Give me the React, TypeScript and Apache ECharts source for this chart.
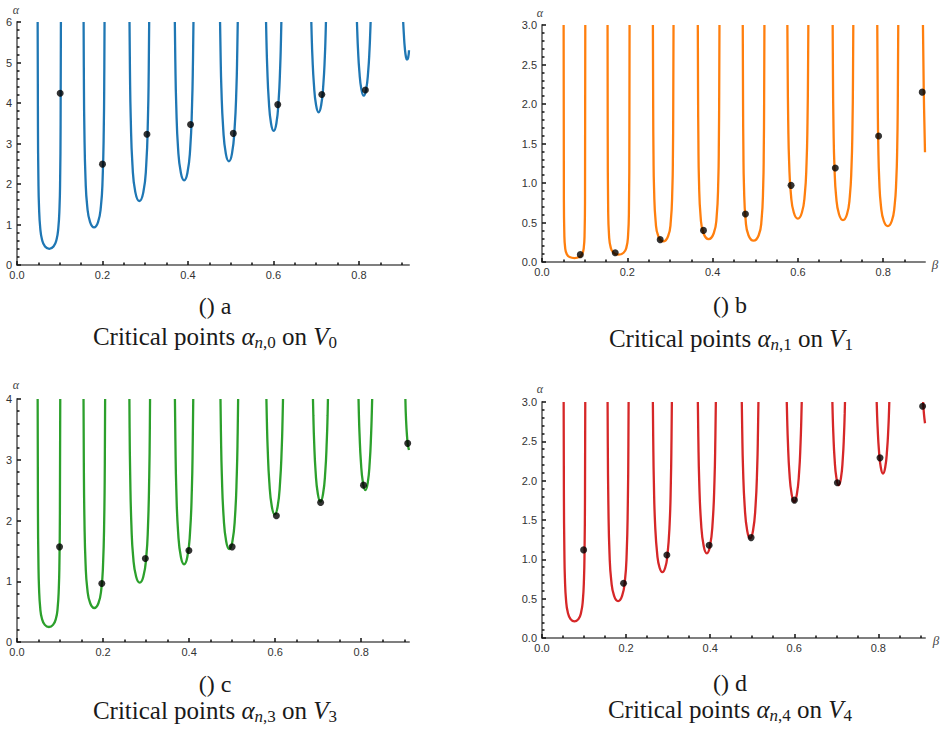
import React, { useEffect, useRef } from "react";
import * as echarts from "echarts";

type Pt = [number, number];

// Branches of alpha(beta) on V0 and the critical points alpha_{n,0}
const v0Branches: Pt[][] = [
  [[0.0483, 6], [0.049, 3.44], [0.0501, 2.1], [0.0515, 1.44], [0.0543, 0.92], [0.0586, 0.625], [0.0656, 0.456], [0.0755, 0.4], [0.0854, 0.456], [0.0924, 0.625], [0.0967, 0.92], [0.0995, 1.44], [0.1009, 2.1], [0.102, 3.44], [0.1027, 6]],
  [[0.1558, 6], [0.1563, 4.89], [0.1576, 3.35], [0.1603, 2.13], [0.1643, 1.45], [0.171, 1.06], [0.1803, 0.93], [0.1896, 1.06], [0.1963, 1.45], [0.2003, 2.13], [0.203, 3.35], [0.2043, 4.89], [0.2048, 6]],
  [[0.2632, 6], [0.2642, 4.82], [0.2661, 3.62], [0.2701, 2.47], [0.2768, 1.8], [0.2862, 1.58], [0.2956, 1.8], [0.3023, 2.47], [0.3063, 3.62], [0.3082, 4.82], [0.3092, 6]],
  [[0.3692, 6], [0.3703, 5.07], [0.3725, 3.95], [0.3768, 2.88], [0.3834, 2.27], [0.391, 2.09], [0.3986, 2.27], [0.4052, 2.88], [0.4095, 3.95], [0.4117, 5.07], [0.4128, 6]],
  [[0.475, 6], [0.4761, 5.3], [0.4781, 4.37], [0.4823, 3.38], [0.4885, 2.75], [0.4957, 2.56], [0.5029, 2.75], [0.5091, 3.38], [0.5133, 4.37], [0.5153, 5.3], [0.5164, 6]],
  [[0.5826, 6], [0.5835, 5.56], [0.5853, 4.9], [0.5889, 4.08], [0.5942, 3.5], [0.6005, 3.31], [0.6068, 3.5], [0.6121, 4.08], [0.6157, 4.9], [0.6175, 5.56], [0.6184, 6]],
  [[0.6885, 6], [0.6893, 5.68], [0.691, 5.16], [0.6945, 4.47], [0.6996, 3.95], [0.7056, 3.77], [0.7116, 3.95], [0.7167, 4.47], [0.7202, 5.16], [0.7219, 5.68], [0.7227, 6]],
  [[0.7952, 6], [0.796, 5.76], [0.7976, 5.35], [0.8008, 4.79], [0.8056, 4.34], [0.8112, 4.18], [0.8168, 4.34], [0.8216, 4.79], [0.8248, 5.35], [0.8264, 5.76], [0.8272, 6]],
  [[0.9034, 6], [0.9049, 5.71], [0.9072, 5.36], [0.91, 5.13], [0.9122, 5.07], [0.915, 5.12], [0.917, 5.3]],
];
const v0Critical: Pt[] = [
  [0.101, 4.24], [0.2, 2.49], [0.304, 3.23], [0.406, 3.47], [0.506, 3.25], [0.61, 3.96], [0.713, 4.21], [0.815, 4.32],
];

// Branches on V1 and the critical points alpha_{n,1}
const v1Branches: Pt[][] = [
  [[0.0507, 3], [0.0513, 0.846], [0.0523, 0.37], [0.0543, 0.18], [0.0582, 0.098], [0.0646, 0.0627], [0.0761, 0.05], [0.0876, 0.0627], [0.094, 0.098], [0.0979, 0.18], [0.0999, 0.37], [0.1009, 0.846], [0.1015, 3]],
  [[0.1537, 3], [0.1541, 1.59], [0.1551, 0.688], [0.1572, 0.335], [0.1612, 0.182], [0.1677, 0.117], [0.1795, 0.093], [0.1913, 0.117], [0.1978, 0.182], [0.2018, 0.335], [0.2039, 0.688], [0.2049, 1.59], [0.2053, 3]],
  [[0.26, 3], [0.2607, 1.92], [0.2614, 1.37], [0.2627, 0.937], [0.2665, 0.51], [0.2728, 0.326], [0.2842, 0.26], [0.2956, 0.326], [0.3019, 0.51], [0.3057, 0.937], [0.307, 1.37], [0.3077, 1.92], [0.3084, 3]],
  [[0.3653, 3], [0.3659, 2.15], [0.3667, 1.53], [0.368, 1.045], [0.372, 0.569], [0.3787, 0.364], [0.3907, 0.29], [0.4027, 0.364], [0.4094, 0.569], [0.4134, 1.045], [0.4147, 1.53], [0.4155, 2.15], [0.4161, 3]],
  [[0.4707, 3], [0.4714, 2.0], [0.4722, 1.42], [0.4735, 0.973], [0.4775, 0.529], [0.4841, 0.339], [0.4961, 0.27], [0.5081, 0.339], [0.5147, 0.529], [0.5187, 0.973], [0.52, 1.42], [0.5208, 2.0], [0.5215, 3]],
  [[0.5753, 3], [0.576, 2.44], [0.5773, 1.77], [0.5795, 1.257], [0.5836, 0.859], [0.5904, 0.627], [0.5999, 0.55], [0.6094, 0.627], [0.6162, 0.859], [0.6203, 1.257], [0.6225, 1.77], [0.6238, 2.44], [0.6245, 3]],
  [[0.6815, 3], [0.6822, 2.35], [0.6835, 1.7], [0.6857, 1.21], [0.6897, 0.828], [0.6964, 0.604], [0.7057, 0.53], [0.7151, 0.604], [0.7217, 0.828], [0.7257, 1.21], [0.7279, 1.7], [0.7292, 2.35], [0.7299, 3]],
  [[0.7861, 3], [0.7872, 2.02], [0.7885, 1.46], [0.7907, 1.04], [0.7947, 0.711], [0.8014, 0.519], [0.8107, 0.455], [0.8201, 0.519], [0.8267, 0.711], [0.8307, 1.04], [0.8329, 1.46], [0.8342, 2.02], [0.8353, 3]],
  [[0.8932, 3], [0.895, 2.2], [0.8968, 1.7], [0.898, 1.39]],
];
const v1Critical: Pt[] = [
  [0.0898, 0.093], [0.1717, 0.118], [0.2771, 0.283], [0.3786, 0.4], [0.477, 0.608], [0.5839, 0.97], [0.6877, 1.19], [0.7892, 1.595], [0.8915, 2.15],
];

// Branches on V3 and the critical points alpha_{n,3}
const v3Branches: Pt[][] = [
  [[0.048, 4], [0.0487, 2.12], [0.0498, 1.3], [0.0512, 0.89], [0.0539, 0.565], [0.0579, 0.386], [0.0647, 0.282], [0.0742, 0.247], [0.0837, 0.282], [0.0905, 0.386], [0.0945, 0.565], [0.0972, 0.89], [0.0986, 1.3], [0.0997, 2.12], [0.1005, 4]],
  [[0.1546, 4], [0.1553, 2.95], [0.1567, 2.02], [0.1594, 1.28], [0.1634, 0.875], [0.1702, 0.638], [0.1797, 0.56], [0.1892, 0.638], [0.196, 0.875], [0.2, 1.28], [0.2027, 2.02], [0.2041, 2.95], [0.2048, 4]],
  [[0.2612, 4], [0.2617, 3.52], [0.2631, 2.72], [0.2659, 1.92], [0.27, 1.4], [0.2769, 1.075], [0.2852, 0.978], [0.2935, 1.075], [0.3004, 1.4], [0.3045, 1.92], [0.3073, 2.72], [0.3087, 3.52], [0.3092, 4]],
  [[0.367, 4], [0.3681, 3.32], [0.3702, 2.52], [0.3745, 1.8], [0.3809, 1.4], [0.3883, 1.28], [0.3958, 1.4], [0.4021, 1.8], [0.4064, 2.52], [0.4085, 3.32], [0.4096, 4]],
  [[0.4729, 4], [0.4739, 3.46], [0.476, 2.76], [0.4801, 2.07], [0.4862, 1.655], [0.4934, 1.53], [0.5006, 1.655], [0.5067, 2.07], [0.5108, 2.76], [0.5129, 3.46], [0.5139, 4]],
  [[0.5796, 4], [0.5806, 3.67], [0.5825, 3.2], [0.5864, 2.63], [0.5922, 2.23], [0.5989, 2.1], [0.6057, 2.23], [0.6114, 2.63], [0.6153, 3.2], [0.6172, 3.67], [0.6182, 4]],
  [[0.6878, 4], [0.6887, 3.73], [0.6904, 3.325], [0.6939, 2.81], [0.6991, 2.44], [0.7052, 2.31], [0.7113, 2.44], [0.7165, 2.81], [0.72, 3.325], [0.7218, 3.73], [0.7226, 4]],
  [[0.7937, 4], [0.7944, 3.78], [0.796, 3.43], [0.7992, 2.97], [0.804, 2.62], [0.8095, 2.5], [0.8151, 2.62], [0.8198, 2.97], [0.823, 3.43], [0.8246, 3.78], [0.8254, 4]],
  [[0.9026, 4], [0.9042, 3.65], [0.9065, 3.38], [0.9085, 3.24], [0.911, 3.16]],
];
const v3Critical: Pt[] = [
  [0.0989, 1.566], [0.1971, 0.962], [0.2983, 1.374], [0.3995, 1.505], [0.5, 1.566], [0.6028, 2.077], [0.7056, 2.297], [0.8053, 2.582], [0.908, 3.27],
];

// Branches on V4 and the critical points alpha_{n,4}
const v4Branches: Pt[][] = [
  [[0.0515, 3], [0.0521, 1.81], [0.0532, 1.11], [0.0545, 0.76], [0.0572, 0.482], [0.0612, 0.33], [0.0679, 0.24], [0.0772, 0.211], [0.0866, 0.24], [0.0932, 0.33], [0.0972, 0.482], [0.0999, 0.76], [0.1012, 1.11], [0.1023, 1.81], [0.1029, 3]],
  [[0.156, 3], [0.1565, 2.47], [0.1579, 1.69], [0.1606, 1.07], [0.1647, 0.733], [0.1715, 0.535], [0.181, 0.469], [0.1905, 0.535], [0.1973, 0.733], [0.2014, 1.07], [0.2041, 1.69], [0.2055, 2.47], [0.206, 3]],
  [[0.2637, 3], [0.2645, 2.55], [0.2661, 1.98], [0.269, 1.45], [0.2743, 1.05], [0.2797, 0.893], [0.2863, 0.837], [0.293, 0.893], [0.2983, 1.05], [0.3036, 1.45], [0.3065, 1.98], [0.3081, 2.55], [0.3089, 3]],
  [[0.3707, 3], [0.3718, 2.555], [0.3739, 2.006], [0.3782, 1.477], [0.3846, 1.169], [0.3921, 1.077], [0.3996, 1.169], [0.406, 1.477], [0.4103, 2.006], [0.4124, 2.555], [0.4135, 3]],
  [[0.4752, 3], [0.4762, 2.647], [0.4781, 2.174], [0.4821, 1.676], [0.4881, 1.364], [0.495, 1.267], [0.5019, 1.364], [0.5079, 1.676], [0.5119, 2.174], [0.5138, 2.647], [0.5148, 3]],
  [[0.5822, 3], [0.5831, 2.8], [0.5849, 2.493], [0.5884, 2.108], [0.5938, 1.827], [0.6, 1.732], [0.6062, 1.827], [0.6116, 2.108], [0.6151, 2.493], [0.6169, 2.8], [0.6178, 3]],
  [[0.6907, 3], [0.6914, 2.849], [0.6929, 2.607], [0.6959, 2.283], [0.7004, 2.031], [0.7057, 1.943], [0.711, 2.031], [0.7155, 2.283], [0.7185, 2.607], [0.72, 2.849], [0.7207, 3]],
  [[0.7961, 3], [0.7968, 2.878], [0.7983, 2.676], [0.8013, 2.397], [0.8058, 2.171], [0.8111, 2.09], [0.8164, 2.171], [0.8209, 2.397], [0.8239, 2.676], [0.8254, 2.878], [0.8261, 3]],
  [[0.9065, 3], [0.9085, 2.85], [0.911, 2.73]],
];
const v4Critical: Pt[] = [
  [0.099, 1.12], [0.194, 0.697], [0.297, 1.056], [0.3976, 1.179], [0.4974, 1.276], [0.6004, 1.753], [0.7026, 1.973], [0.804, 2.29], [0.9053, 2.945],
];

// Tick positions on the beta axis
const betaMajorTicks = [0, 0.2, 0.4, 0.6, 0.8];
const betaMinorTicks = [0.05, 0.1, 0.15, 0.25, 0.3, 0.35, 0.45, 0.5, 0.55, 0.65, 0.7, 0.75, 0.85, 0.9];

const AXIS_GRAY = "#7f7f7f";
const LABEL_COLOR = "#333333";
const TICK_COLOR = "#111111";
const TEXT_COLOR = "#1a1a1a";
const SANS = "'Liberation Sans', Arial, sans-serif";
const SERIF = "'Liberation Serif', 'Times New Roman', serif";

interface Panel {
  branches: Pt[][];
  critical: Pt[];
  color: string;
  xMax: number;
  yMax: number;
  yStep: number;
  yDigits: number;
  rect: { left: number; top: number; width: number; height: number };
  letter: string;
  index: string;
  letterPos: [number, number];
  titlePos: [number, number];
  alphaPos: [number, number];
  betaPos?: [number, number];
}

const panels: Panel[] = [
  {
    branches: v0Branches, critical: v0Critical, color: "#1f77b4",
    xMax: 0.917, yMax: 6, yStep: 1, yDigits: 0,
    rect: { left: 17, top: 22, width: 392, height: 243 },
    letter: "a", index: "0", letterPos: [215, 306], titlePos: [215, 336], alphaPos: [16, 10],
  },
  {
    branches: v1Branches, critical: v1Critical, color: "#ff7f0e",
    xMax: 0.898, yMax: 3, yStep: 0.5, yDigits: 1,
    rect: { left: 542, top: 25, width: 383, height: 237 },
    letter: "b", index: "1", letterPos: [730, 305], titlePos: [731, 338], alphaPos: [540, 13],
    betaPos: [935, 264],
  },
  {
    branches: v3Branches, critical: v3Critical, color: "#2ca02c",
    xMax: 0.911, yMax: 4, yStep: 1, yDigits: 0,
    rect: { left: 17, top: 399, width: 392, height: 243 },
    letter: "c", index: "3", letterPos: [215, 684], titlePos: [215, 710], alphaPos: [16, 385],
  },
  {
    branches: v4Branches, critical: v4Critical, color: "#d62728",
    xMax: 0.911, yMax: 3, yStep: 0.5, yDigits: 1,
    rect: { left: 542, top: 402, width: 383, height: 236 },
    letter: "d", index: "4", letterPos: [730, 683], titlePos: [730, 709], alphaPos: [540, 389],
    betaPos: [936, 640],
  },
];

function buildOption(): echarts.EChartsOption {
  const grid: any[] = [];
  const xAxis: any[] = [];
  const yAxis: any[] = [];
  const series: any[] = [];
  const graphic: any[] = [];

  panels.forEach((p, i) => {
    grid.push({ ...p.rect, containLabel: false, outerBoundsMode: "none" });

    // labelled beta axis with the long ticks
    xAxis.push({
      type: "value",
      gridIndex: i,
      min: 0,
      max: p.xMax,
      position: "bottom",
      axisLine: { show: true, onZero: false, lineStyle: { color: AXIS_GRAY, width: 2 } },
      axisTick: {
        show: true,
        inside: true,
        length: 4,
        customValues: betaMajorTicks,
        lineStyle: { color: TICK_COLOR, width: 1.5 },
      },
      axisLabel: {
        show: true,
        customValues: betaMajorTicks,
        formatter: (v: number) => v.toFixed(1),
        color: LABEL_COLOR,
        fontFamily: SANS,
        fontSize: 11,
        margin: 4,
      },
      splitLine: { show: false },
    });
    // short ticks every 0.05
    xAxis.push({
      type: "value",
      gridIndex: i,
      min: 0,
      max: p.xMax,
      position: "bottom",
      axisLine: { show: false, onZero: false },
      axisTick: {
        show: true,
        inside: true,
        length: 2.5,
        customValues: betaMinorTicks.filter((v) => v <= p.xMax),
        lineStyle: { color: TICK_COLOR, width: 1.5 },
      },
      axisLabel: { show: false },
      splitLine: { show: false },
    });

    yAxis.push({
      type: "value",
      gridIndex: i,
      min: 0,
      max: p.yMax,
      interval: p.yStep,
      axisLine: { show: true, onZero: false, lineStyle: { color: AXIS_GRAY, width: 2 } },
      axisTick: { show: true, inside: true, length: 4, lineStyle: { color: TICK_COLOR, width: 1.5 } },
      minorTick: { show: true, splitNumber: 5, length: 2.5, lineStyle: { color: TICK_COLOR, width: 1.5 } },
      axisLabel: {
        formatter: (v: number) => v.toFixed(p.yDigits),
        color: LABEL_COLOR,
        fontFamily: SANS,
        fontSize: 11,
        margin: 5,
      },
      splitLine: { show: false },
      minorSplitLine: { show: false },
    });

    p.branches.forEach((b) => {
      series.push({
        type: "line",
        xAxisIndex: 2 * i,
        yAxisIndex: i,
        data: b,
        showSymbol: false,
        smooth: 0.5,
        clip: true,
        silent: true,
        lineStyle: { color: p.color, width: 2.3 },
        z: 2,
      });
    });
    series.push({
      type: "scatter",
      xAxisIndex: 2 * i,
      yAxisIndex: i,
      data: p.critical,
      symbol: "circle",
      symbolSize: 7,
      clip: true,
      silent: true,
      itemStyle: { color: "#000000" },
      z: 3,
    });

    graphic.push({
      type: "text",
      x: p.alphaPos[0],
      y: p.alphaPos[1],
      style: {
        text: "α",
        fill: "#444444",
        font: `italic 12px ${SERIF}`,
        align: "center",
        verticalAlign: "middle",
      },
    });
    if (p.betaPos) {
      graphic.push({
        type: "text",
        x: p.betaPos[0],
        y: p.betaPos[1],
        style: {
          text: "β",
          fill: "#444444",
          font: `italic 13px ${SERIF}`,
          align: "center",
          verticalAlign: "middle",
        },
      });
    }
    graphic.push({
      type: "text",
      x: p.letterPos[0],
      y: p.letterPos[1],
      style: {
        text: `() ${p.letter}`,
        fill: TEXT_COLOR,
        font: `24px ${SERIF}`,
        align: "center",
        verticalAlign: "middle",
      },
    });
    graphic.push({
      type: "text",
      x: p.titlePos[0],
      y: p.titlePos[1],
      style: {
        text: `Critical points {m|α}{si|n}{s|,${p.index}} on {m|V}{s|${p.index}}`,
        fill: TEXT_COLOR,
        fontFamily: SERIF,
        fontSize: 25,
        lineHeight: 29,
        align: "center",
        verticalAlign: "middle",
        rich: {
          m: { fontFamily: SERIF, fontSize: 25, fontStyle: "italic", fill: TEXT_COLOR, lineHeight: 29 },
          si: { fontFamily: SERIF, fontSize: 17, fontStyle: "italic", fill: TEXT_COLOR, lineHeight: 17, verticalAlign: "bottom" },
          s: { fontFamily: SERIF, fontSize: 17, fill: TEXT_COLOR, lineHeight: 17, verticalAlign: "bottom" },
        },
      },
    });
  });

  return {
    animation: false,
    backgroundColor: "#ffffff",
    grid,
    xAxis,
    yAxis,
    series,
    graphic,
  } as echarts.EChartsOption;
}

export default function App() {
  const ref = useRef<HTMLDivElement>(null);

  useEffect(() => {
    if (!ref.current) return;
    const chart = echarts.init(ref.current, undefined, { renderer: "svg" });
    chart.setOption(buildOption());
    return () => chart.dispose();
  }, []);

  return (
    <div
      ref={ref}
      style={{ position: "absolute", left: 0, top: 0, width: 947, height: 731, background: "#fff" }}
    />
  );
}
